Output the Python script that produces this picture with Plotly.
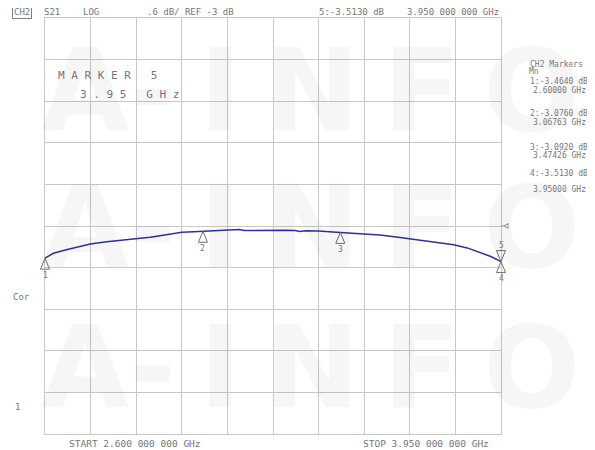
import plotly.graph_objects as go

# ---------------- data ----------------
freq_ghz = [2.600, 2.625, 2.660, 2.695, 2.734, 2.783, 2.832, 2.872, 2.911, 2.936,
            2.970, 3.005, 3.040, 3.068, 3.100, 3.139, 3.160, 3.175, 3.190, 3.230,
            3.274, 3.290, 3.305, 3.340, 3.355, 3.370, 3.410, 3.474, 3.510, 3.545,
            3.592, 3.640, 3.680, 3.720, 3.769, 3.810, 3.850, 3.888, 3.920, 3.950]
s21_db = [-3.464, -3.394, -3.346, -3.307, -3.260, -3.226, -3.202, -3.188, -3.163, -3.144,
          -3.115, -3.090, -3.082, -3.076, -3.070, -3.066, -3.062, -3.052, -3.064, -3.064,
          -3.062, -3.054, -3.062, -3.066, -3.078, -3.068, -3.072, -3.092, -3.104, -3.115,
          -3.130, -3.160, -3.185, -3.212, -3.240, -3.270, -3.316, -3.380, -3.440, -3.513]

marker_ids = ["1", "2", "3", "4"]
marker_freq = [2.600, 3.06763, 3.47426, 3.950]
marker_db = [-3.464, -3.076, -3.092, -3.513]
active_id = "5"
active_freq = 3.950
active_db = -3.513

start_ghz, stop_ghz = 2.6, 3.95
ref_db = -3.0
scale_db = 0.6
divisions = 10

header_texts = ["S21", "LOG", ".6 dB/ REF -3 dB", "5:-3.5130 dB", "3.950 000 000 GHz"]
panel_texts = ["1:-3.4640 dB", "2.60000 GHz", "2:-3.0760 dB", "3.06763 GHz",
               "3:-3.0920 dB", "3.47426 GHz", "4:-3.5130 dB", "3.95000 GHz"]
start_text = "START 2.600 000 000 GHz"
stop_text = "STOP 3.950 000 000 GHz"

# ---------------- layout helpers ----------------
# the page body has an 8px margin; work in screen pixels and shift
OFF = 8
W, H = 595 - OFF, 450 - OFF
L, R, T, B = 45, 501, 18, 434          # plot area in screen pixels


def px(x):
    return (x - L) / (R - L)


def py(y):
    return (B - y) / (B - T)


GRAY = "#767676"
MONO = "DejaVu Sans Mono"
ymax = ref_db + scale_db * divisions / 2
ymin = ref_db - scale_db * divisions / 2

fig = go.Figure()
fig.add_trace(go.Scatter(x=freq_ghz, y=s21_db, mode="lines",
                         line=dict(color="#3030a0", width=1.5),
                         hoverinfo="skip", showlegend=False))

annotations = []


def txt(s, x, y, size=9, anchor="left", color=GRAY, **kw):
    annotations.append(dict(text=s, x=px(x), y=py(y), xref="paper", yref="paper",
                            xanchor=anchor, yanchor="middle", showarrow=False,
                            font=dict(family=MONO, size=size, color=color), **kw))


# watermark
for yc in [90, 227, 367]:
    annotations.append(dict(text="A-\u2009I\u2009N\u2009F\u2009O", x=px(310), y=py(yc),
                            xref="paper", yref="paper", xanchor="center", yanchor="middle",
                            showarrow=False,
                            font=dict(family="DejaVu Sans", size=114, weight="bold",
                                      color="rgba(0,0,0,0.035)")))

# header
txt("CH2", 11.5, 11.5, bordercolor="#808080", borderwidth=1, borderpad=1)
header_x = [42, 80.5, 144.5, 316.5, 405]
for s, x in zip(header_texts, header_x):
    txt(s, x, 12)

# right marker panel
txt("CH2 Markers", 528, 64.5, size=8)
txt("Mn", 526.5, 72, size=8)
panel_pos = [(528, 81), (530.5, 90.7), (528, 113.3), (530.5, 122.7),
             (528, 147.7), (530.5, 155.7), (528, 173), (530.5, 189)]
for s, (x, y) in zip(panel_texts, panel_pos):
    txt(s, x, y, size=8)

# active marker readout
txt("M A R K E R   5", 56, 76, size=11)
txt("3 . 9 5   G H z", 78, 94, size=11)

# left annotations
txt("Cor", 10.5, 297)
txt("1", 17, 407, anchor="center")

# start / stop
txt(start_text, 67, 443, size=9.5)
txt(stop_text, 361, 443, size=9.5)

# marker labels
for mid, f, d in zip(marker_ids, marker_freq, marker_db):
    annotations.append(dict(text=mid, x=f, y=d, xref="x", yref="y", showarrow=False,
                            yshift=-17, xanchor="center", yanchor="middle",
                            font=dict(family=MONO, size=8, color=GRAY)))
annotations.append(dict(text=active_id, x=active_freq, y=active_db, xref="x", yref="y",
                        showarrow=False, yshift=16, xanchor="center", yanchor="middle",
                        font=dict(family=MONO, size=8, color=GRAY)))

shapes = []
for f, d in zip(marker_freq, marker_db):
    shapes.append(dict(type="path", xref="paper", yref="y", xsizemode="pixel", ysizemode="pixel",
                       xanchor=(f - start_ghz) / (stop_ghz - start_ghz), yanchor=d,
                       path="M0,0 L-4.5,-11 L4.5,-11 Z",
                       line=dict(color="#707070", width=1), fillcolor="rgba(255,255,255,0)"))
shapes.append(dict(type="path", xref="paper", yref="y", xsizemode="pixel", ysizemode="pixel",
                   xanchor=(active_freq - start_ghz) / (stop_ghz - start_ghz), yanchor=active_db,
                   path="M0,0 L-4.5,11 L4.5,11 Z",
                   line=dict(color="#707070", width=1), fillcolor="rgba(255,255,255,0)"))
# reference level pointer
shapes.append(dict(type="path", xref="paper", yref="y", xsizemode="pixel", ysizemode="pixel",
                   xanchor=1, yanchor=ref_db,
                   path="M0,0 L3,0 M3,0 L7,2.5 L7,-2.5 Z",
                   line=dict(color="#909090", width=1), fillcolor="rgba(255,255,255,0)"))

axis_common = dict(showgrid=True, gridcolor="#c8c8c8", gridwidth=1, showticklabels=False,
                   ticks="", showline=True, linecolor="#c8c8c8", linewidth=1, mirror=True,
                   zeroline=False, fixedrange=True)

fig.update_layout(
    width=W, height=H,
    margin=dict(l=L - OFF, r=595 - R, t=T - OFF, b=450 - B, pad=0),
    paper_bgcolor="white", plot_bgcolor="white",
    xaxis=dict(range=[start_ghz, stop_ghz], tick0=start_ghz,
               dtick=(stop_ghz - start_ghz) / divisions, **axis_common),
    yaxis=dict(range=[ymin, ymax], tick0=ymax, dtick=scale_db, **axis_common),
    annotations=annotations, shapes=shapes,
    showlegend=False,
)

fig.write_html("out.html")
